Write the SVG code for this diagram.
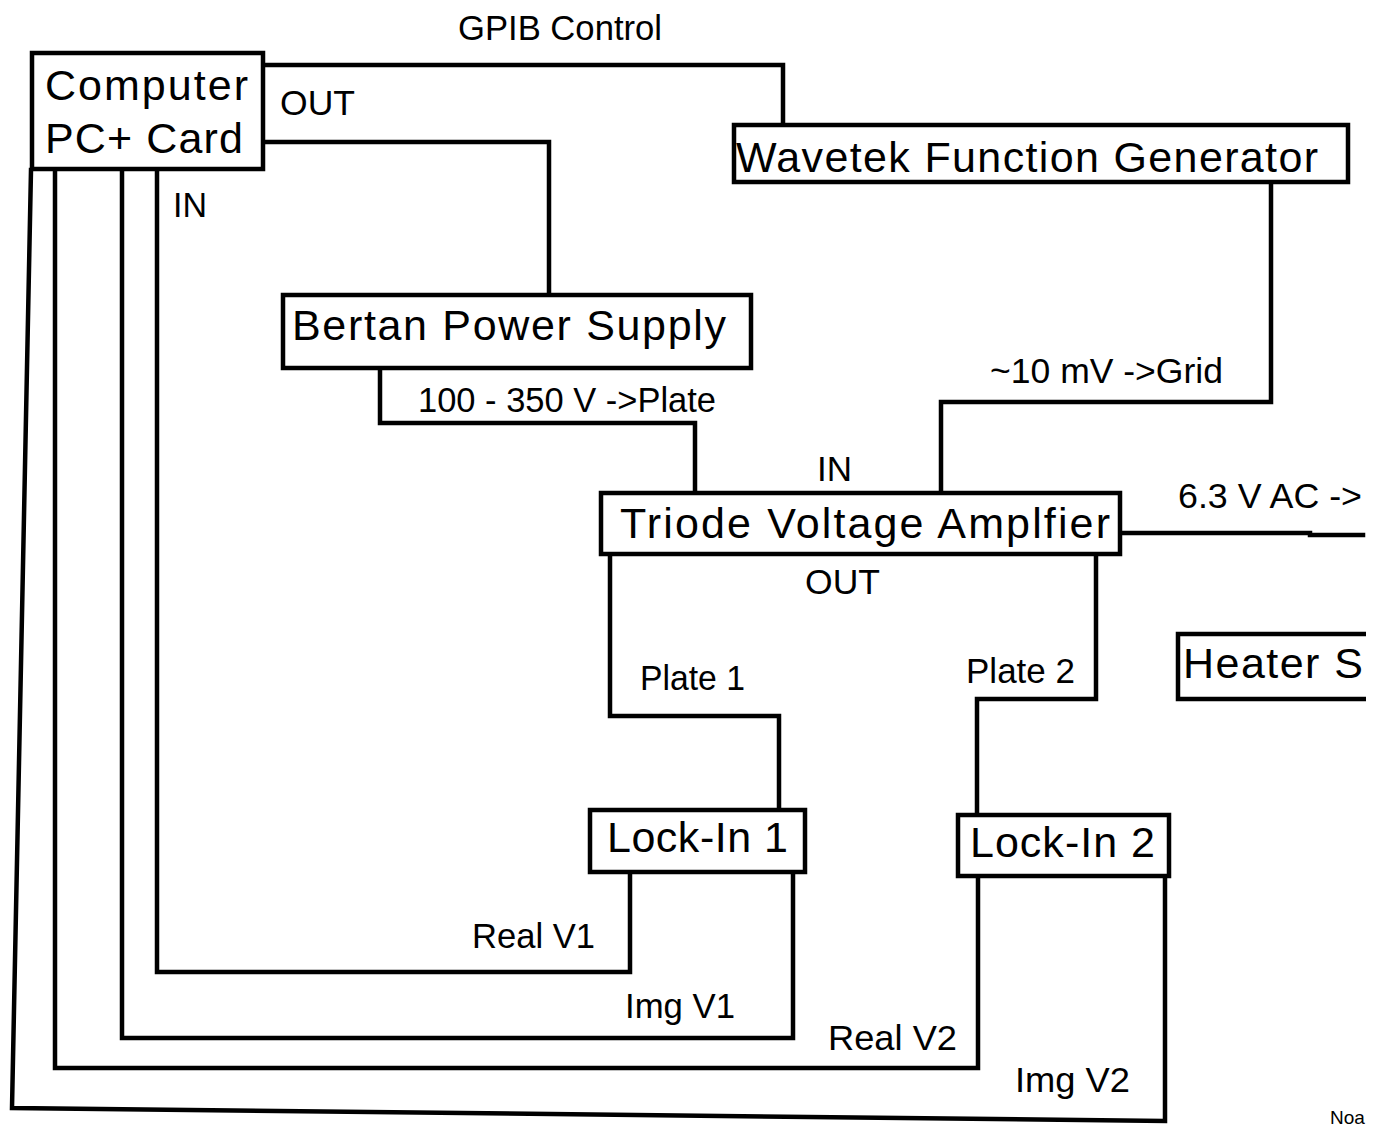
<svg xmlns="http://www.w3.org/2000/svg" width="1373" height="1127" viewBox="0 0 1373 1127">
<style>
.box{fill:#fff;stroke:#000;stroke-width:4.5}
.ln{fill:none;stroke:#000;stroke-width:4.5;stroke-linejoin:miter;stroke-linecap:square}
.bt{font-family:"Liberation Sans",Arial,sans-serif;font-size:43px;fill:#000}
.lb{font-family:"Liberation Sans",Arial,sans-serif;font-size:35px;fill:#000}
</style>
<rect width="1373" height="1127" fill="#fff"/>
<g id="connectors">
<polyline class="ln" points="263,65 783,65 783,125"/>
<polyline class="ln" points="263,142 549,142 549,295"/>
<polyline class="ln" points="380,368 380,423 695,423 695,493"/>
<polyline class="ln" points="1271,182 1271,402 941,402 941,493"/>
<polyline class="ln" points="1120,533 1310,533 1310,535 1363,535"/>
<polyline class="ln" points="610,554 610,716 779,716 779,810"/>
<polyline class="ln" points="1096,554 1096,699 977,699 977,815"/>
<polyline class="ln" points="157,170 157,972 630,972 630,872"/>
<polyline class="ln" points="122,170 122,1038 793,1038 793,872"/>
<polyline class="ln" points="55,170 55,1068 978,1068 978,876"/>
<polyline class="ln" points="31,170 12,1108 1165,1121 1165,876"/>
</g>
<g id="computer">
<rect class="box" x="32" y="53" width="231" height="116"/>
<text class="bt" x="45" y="100" textLength="203">Computer</text>
<text class="bt" x="45" y="153" textLength="198">PC+ Card</text>
</g>
<g id="wavetek">
<rect class="box" x="734" y="125" width="614" height="57"/>
<text class="bt" x="736" y="172" textLength="582">Wavetek Function Generator</text>
</g>
<g id="bertan">
<rect class="box" x="283" y="295" width="468" height="73"/>
<text class="bt" x="292" y="340" textLength="434">Bertan Power Supply</text>
</g>
<g id="triode">
<rect class="box" x="601" y="493" width="519" height="61"/>
<text class="bt" x="620" y="538" textLength="490">Triode Voltage Amplfier</text>
</g>
<g id="heater">
<rect class="box" x="1178" y="634" width="200" height="65"/>
<text class="bt" x="1183" y="678" textLength="180">Heater S</text>
</g>
<g id="lockin1">
<rect class="box" x="590" y="810" width="215" height="62"/>
<text class="bt" x="607" y="852" textLength="181">Lock-In 1</text>
</g>
<g id="lockin2">
<rect class="box" x="958" y="815" width="211" height="61"/>
<text class="bt" x="970" y="857" textLength="185">Lock-In 2</text>
</g>
<rect x="1366" y="0" width="7" height="1100" fill="#fff"/>
<g id="labels">
<text class="lb" x="458" y="40" textLength="204" lengthAdjust="spacingAndGlyphs">GPIB Control</text>
<text class="lb" x="280" y="115" textLength="75" lengthAdjust="spacingAndGlyphs">OUT</text>
<text class="lb" x="173" y="217" textLength="34" lengthAdjust="spacingAndGlyphs">IN</text>
<text class="lb" x="418" y="412" textLength="298" lengthAdjust="spacingAndGlyphs">100 - 350 V -&gt;Plate</text>
<text class="lb" x="990" y="383" textLength="233" lengthAdjust="spacingAndGlyphs">~10 mV -&gt;Grid</text>
<text class="lb" x="817" y="481" textLength="35" lengthAdjust="spacingAndGlyphs">IN</text>
<text class="lb" x="805" y="594" textLength="75" lengthAdjust="spacingAndGlyphs">OUT</text>
<text class="lb" x="1178" y="508" textLength="184" lengthAdjust="spacingAndGlyphs">6.3 V AC -&gt;</text>
<text class="lb" x="640" y="690" textLength="105" lengthAdjust="spacingAndGlyphs">Plate 1</text>
<text class="lb" x="966" y="683" textLength="109" lengthAdjust="spacingAndGlyphs">Plate 2</text>
<text class="lb" x="472" y="948" textLength="123" lengthAdjust="spacingAndGlyphs">Real V1</text>
<text class="lb" x="625" y="1018" textLength="110" lengthAdjust="spacingAndGlyphs">Img V1</text>
<text class="lb" x="828" y="1050" textLength="129" lengthAdjust="spacingAndGlyphs">Real V2</text>
<text class="lb" x="1015" y="1092" textLength="115" lengthAdjust="spacingAndGlyphs">Img V2</text>
<text class="lb" x="1330" y="1124" style="font-size:19px">Noa</text>
</g>
</svg>
